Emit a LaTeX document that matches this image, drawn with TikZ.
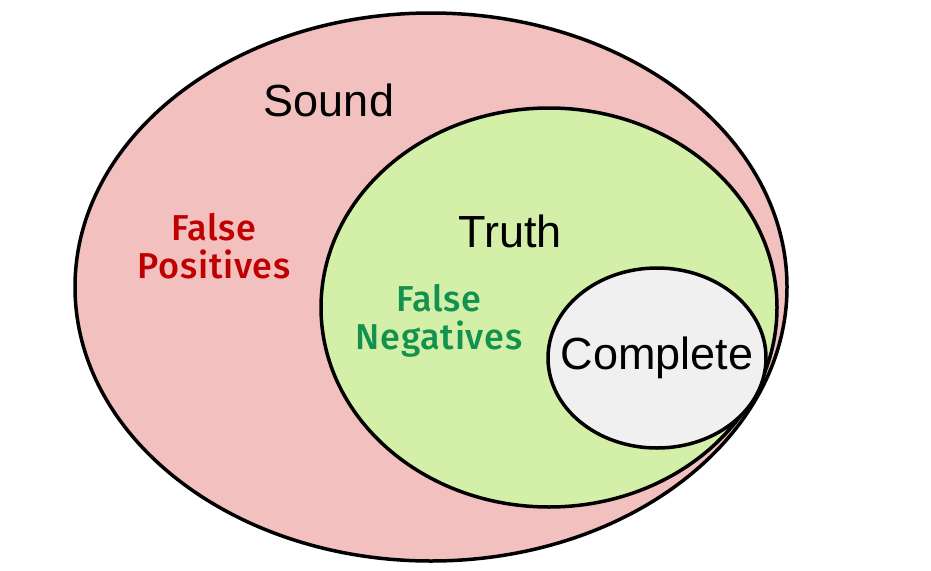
\documentclass[tikz,border=0pt]{standalone}
\usepackage{fontspec}
\setmainfont{Liberation Sans}
\newfontfamily\comicfont{Fira Sans}[UprightFont={* Medium}, LetterSpace=2]
\usetikzlibrary{shapes.geometric}
\definecolor{pinkfill}{HTML}{F2C0BE}
\definecolor{greenfill}{HTML}{D3EFA8}
\definecolor{greyfill}{HTML}{F0F0F0}
\definecolor{redtext}{HTML}{C00000}
\definecolor{greentext}{HTML}{13924F}
\tikzset{
  setellipse/.style={ellipse, draw=black, line width=3.5pt, inner sep=0pt, outer sep=0pt},
  bigtext/.style={font=\fontsize{45}{50}\selectfont, inner sep=0pt, anchor=center},
  comictext/.style={font=\comicfont\fontsize{36}{38}\selectfont, inner sep=0pt, align=center, anchor=center}
}
\begin{document}
\begin{tikzpicture}[x=1pt,y=-1pt]
\useasboundingbox (0,0) rectangle (931,570);
\node[setellipse, fill=pinkfill, minimum width=712pt, minimum height=548pt] (sound) at (431,287) {};
\node[setellipse, fill=greenfill, minimum width=456pt, minimum height=399pt] (truth) at (549,307.5) {};
\node[setellipse, fill=greyfill, minimum width=218pt, minimum height=180pt] (complete) at (657,358) {};
\node[bigtext] (soundlbl) at (329,100) {Sound};
\node[bigtext] (truthlbl) at (510,231) {Truth};
\node[bigtext] (completelbl) at (657,358) {Complete};
\node[comictext, text=redtext] (fp) at (214,246) {False\\Positives};
\node[comictext, text=greentext] (fn) at (439,321) {False\\Negatives};
\end{tikzpicture}
\end{document}
